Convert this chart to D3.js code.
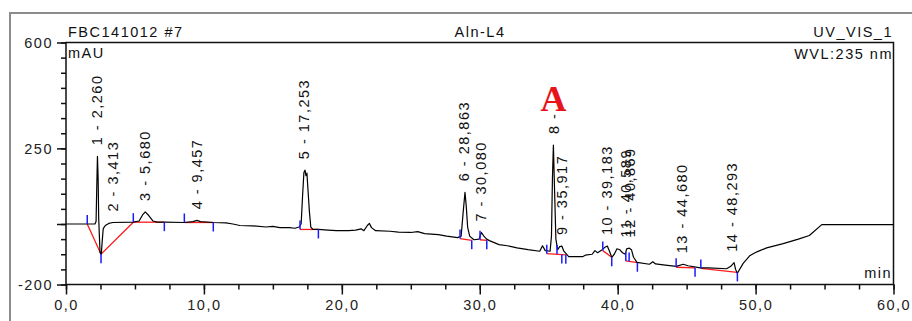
<!DOCTYPE html>
<html>
<head>
<meta charset="utf-8">
<script src="https://cdn.jsdelivr.net/npm/d3@7"></script>
<style>
  body { margin: 0; background: #fff; }
  text { font-family: "Liberation Sans", Arial, sans-serif; }
</style>
</head>
<body>
<div id="wrapper"></div>
<script>
// chromatogram trace: [time (min), signal (mAU)]
const trace = [
  [0, 0], [1.54, 0], [2.1, 0], [2.18, 8], [2.23, 120], [2.28, 224], [2.33, 150], [2.37, 20],
  [2.42, -40], [2.47, -95], [2.56, -100], [2.62, -60], [2.7, -15], [2.85, -5], [3.1, 2], [3.4, 5],
  [4.88, 6], [5.3, 10], [5.55, 30], [5.75, 40], [6.0, 28], [6.3, 10], [6.6, 6], [7.13, 6],
  [8.58, 5], [9.2, 8], [9.5, 12], [9.75, 8], [10.68, 5], [11.6, 4], [12.1, 0], [12.6, -5],
  [13.5, -6], [14.5, -10], [15.0, -8], [15.5, -12], [16.2, -12], [16.6, -14], [16.9, -10],
  [17.05, 0], [17.15, 90], [17.25, 170], [17.33, 178], [17.4, 160], [17.47, 168], [17.55, 110],
  [17.65, 40], [17.75, -10], [17.9, -18], [18.3, -18], [19.0, -20], [19.6, -22], [20.5, -22],
  [21.0, -20], [21.4, -16], [21.6, -22], [21.85, -5], [22.0, 2], [22.15, -12], [22.45, -22],
  [23.5, -24], [24.1, -27], [25.0, -28], [25.5, -25], [26.0, -32], [27.0, -35], [27.6, -40],
  [28.4, -45], [28.65, -40], [28.8, 40], [28.93, 105], [29.02, 60], [29.12, -10], [29.27, -40],
  [29.57, -52], [29.95, -50], [30.12, -28], [30.3, -40], [30.5, -50], [30.7, -55], [31.4, -68],
  [32.0, -72], [32.7, -79], [33.5, -85], [34.35, -90], [34.55, -72], [34.75, -88], [35.1, -90],
  [35.2, -40], [35.27, 150], [35.34, 261], [35.42, 120], [35.52, -50], [35.65, -85], [35.8, -75],
  [35.95, -73], [36.1, -90], [36.45, -108], [37.45, -108], [37.65, -103], [38.15, -100],
  [38.35, -88], [38.55, -95], [38.85, -86], [39.05, -78], [39.25, -73], [39.45, -95], [39.57, -110],
  [39.75, -100], [39.95, -82], [40.15, -85], [40.35, -95], [40.55, -100], [40.65, -82], [40.85, -80],
  [41.0, -85], [41.15, -110], [41.4, -127], [42.3, -133], [42.55, -125], [42.75, -132], [43.3, -135],
  [44.25, -140], [44.75, -133], [45.1, -138], [46.0, -145], [46.6, -145], [47.9, -148], [48.2, -140],
  [48.44, -128], [48.55, -150], [48.68, -163], [49.1, -130], [49.6, -104], [50.1, -92], [50.8, -79],
  [52.0, -65], [53.1, -50], [53.9, -38], [54.8, -2], [60, -2]
];

// peak table
const peakIds = [1, 2, 3, 4, 5, 6, 7, 8, 9, 10, 11, 12, 13, 14];
const peakTimes = [2.26, 3.413, 5.68, 9.457, 17.253, 28.863, 30.08, 35.34, 35.917, 39.183, 40.589, 40.869, 44.68, 48.293];
const peakLabels = ['1 - 2,260', '2 - 3,413', '3 - 5,680', '4 - 9,457', '5 - 17,253', '6 - 28,863',
  '7 - 30,080', '8 -', '9 - 35,917', '10 - 39,183', '11 - 40,589', '12 - 40,869', '13 - 44,680', '14 - 48,293'];

// integration baselines (red)
const baselines = [
  [[1.54, 0], [2.54, -100], [4.88, 6]],
  [[4.88, 6], [7.13, 6]],
  [[8.58, 5], [10.68, 5]],
  [[16.97, -18], [18.3, -18]],
  [[28.57, -48], [29.42, -54]],
  [[30.02, -52], [30.51, -54]],
  [[34.86, -98], [36.24, -102]],
  [[38.92, -88], [39.57, -110]],
  [[40.59, -122], [41.43, -128]],
  [[44.24, -143], [45.61, -145]],
  [[46.03, -147], [48.68, -160]]
];

// peak start (+1) / end (-1) delimiters (blue)
const delimiters = [
  [1.54, 0, 1], [2.54, -100, -1], [4.88, 6, 1], [7.13, 6, -1], [8.58, 5, 1], [10.68, 5, -1],
  [16.97, -18, 1], [18.3, -18, -1], [28.57, -48, 1], [29.42, -54, -1], [30.02, -52, 1], [30.51, -54, -1],
  [34.86, -98, 1], [35.6, -99, 1], [35.95, -101, -1], [36.24, -102, -1], [38.92, -88, 1], [39.57, -110, -1],
  [40.59, -122, 1], [40.83, -124, 1], [41.43, -128, -1], [44.24, -143, 1], [45.61, -145, -1],
  [46.03, -147, 1], [48.68, -160, -1]
];

const xMajor = [0, 10, 20, 30, 40, 50, 60];
const xMinor = d3.range(0, 60.01, 2.5);
const yMajor = [600, 250, -200];
const yMinorLong = [0];
const yMinor = d3.range(-200, 600.01, 50);

const width = 912, height = 321;
const plot = { left: 66, right: 893.5, top: 42.5, bottom: 284.5 };

const svg = d3.select('#wrapper').append('svg')
  .attr('width', width)
  .attr('height', height);

// grey outer frame
svg.append('rect')
  .attr('x', 10).attr('y', 13)
  .attr('width', 940).attr('height', 340)
  .attr('fill', 'none')
  .attr('stroke', '#8c8c8c')
  .attr('stroke-width', 2);

const x = d3.scaleLinear().domain([0, 60]).range([plot.left, plot.right]);
const y = d3.scaleLinear().domain([-200, 600]).range([plot.bottom, plot.top]);

const fontSize = '14.5px';
const spacing = '1.5px';
const comma = d3.formatLocale({ decimal: ',', thousands: '.', grouping: [3], currency: ['', ''], minus: '-' });

// minor ticks
svg.append('g')
  .attr('transform', `translate(${plot.left},0)`)
  .call(d3.axisLeft(y).tickValues(yMinor).tickSize(5).tickSizeOuter(0).tickFormat(''))
  .call(g => g.select('.domain').remove());
svg.append('g')
  .attr('transform', `translate(0,${plot.bottom})`)
  .call(d3.axisBottom(x).tickValues(xMinor).tickSize(5).tickSizeOuter(0).tickFormat(''))
  .call(g => g.select('.domain').remove());
svg.append('g')
  .attr('transform', `translate(${plot.left},0)`)
  .call(d3.axisLeft(y).tickValues(yMinorLong).tickSize(9).tickSizeOuter(0).tickFormat(''))
  .call(g => g.select('.domain').remove());

// major ticks
const yAxis = svg.append('g')
  .attr('transform', `translate(${plot.left},0)`)
  .call(d3.axisLeft(y).tickValues(yMajor).tickSize(9).tickPadding(4).tickSizeOuter(0).tickFormat(comma.format('d')))
  .call(g => g.select('.domain').remove());

const xAxis = svg.append('g')
  .attr('transform', `translate(0,${plot.bottom})`)
  .call(d3.axisBottom(x).tickValues(xMajor).tickSize(10).tickPadding(5).tickSizeOuter(0).tickFormat(comma.format('.1f')))
  .call(g => g.select('.domain').remove());

svg.selectAll('.tick line').attr('stroke', '#111').attr('stroke-width', 1.5);
svg.selectAll('.tick text')
  .attr('fill', '#222')
  .style('font-family', '"Liberation Sans", Arial, sans-serif')
  .style('font-size', fontSize)
  .style('letter-spacing', spacing);

// plot frame
svg.append('path')
  .attr('d', `M${plot.left},${plot.bottom}H${plot.right}V${plot.top}H${plot.left}Z`)
  .attr('fill', 'none')
  .attr('stroke', '#111')
  .attr('stroke-width', 1.5);

// header texts
const header = svg.append('g')
  .style('font-size', fontSize)
  .style('letter-spacing', spacing)
  .attr('fill', '#111');
header.append('text').attr('x', 68).attr('y', 36.5).text('FBC141012 #7');
header.append('text').attr('x', 480).attr('y', 36.5).attr('text-anchor', 'middle').text('Aln-L4');
header.append('text').attr('x', 893).attr('y', 36.5).attr('text-anchor', 'end').text('UV_VIS_1');
header.append('text').attr('x', 893).attr('y', 59).attr('text-anchor', 'end').text('WVL:235 nm');
header.append('text').attr('x', 68).attr('y', 58).text('mAU');
header.append('text').attr('x', 892).attr('y', 278).attr('text-anchor', 'end').text('min');

const line = d3.line().x(d => x(d[0])).y(d => y(d[1]));

// baselines
svg.append('g').selectAll('path')
  .data(baselines)
  .join('path')
  .attr('d', line)
  .attr('fill', 'none')
  .attr('stroke', '#ff1a1a')
  .attr('stroke-width', 1.3);

// signal
svg.append('path')
  .datum(trace)
  .attr('d', line)
  .attr('fill', 'none')
  .attr('stroke', '#000')
  .attr('stroke-width', 1.2)
  .attr('stroke-linejoin', 'round');

// delimiters
svg.append('g').selectAll('line')
  .data(delimiters)
  .join('line')
  .attr('x1', d => x(d[0]))
  .attr('x2', d => x(d[0]))
  .attr('y1', d => y(d[1]))
  .attr('y2', d => y(d[1]) - 9 * d[2])
  .attr('stroke', '#1a1aff')
  .attr('stroke-width', 1.5);

// peak labels, placed just above the local apex
const apex = t => d3.max(trace.filter(d => Math.abs(d[0] - t) <= 0.2), d => d[1]) ?? 0;

svg.append('g').selectAll('text')
  .data(peakIds)
  .join('text')
  .attr('transform', (d, i) => `translate(${x(peakTimes[i])},${y(apex(peakTimes[i])) - 11}) rotate(-90)`)
  .attr('dy', '0.36em')
  .attr('fill', '#111')
  .style('font-size', fontSize)
  .style('letter-spacing', spacing)
  .text((d, i) => peakLabels[i]);

// marker for peak 8
svg.append('text')
  .attr('x', x(peakTimes[7]))
  .attr('y', 111)
  .attr('text-anchor', 'middle')
  .attr('fill', '#e8141c')
  .style('font-family', '"Liberation Serif", "Times New Roman", serif')
  .style('font-weight', 'bold')
  .style('font-size', '36px')
  .text('A');
</script>
</body>
</html>
